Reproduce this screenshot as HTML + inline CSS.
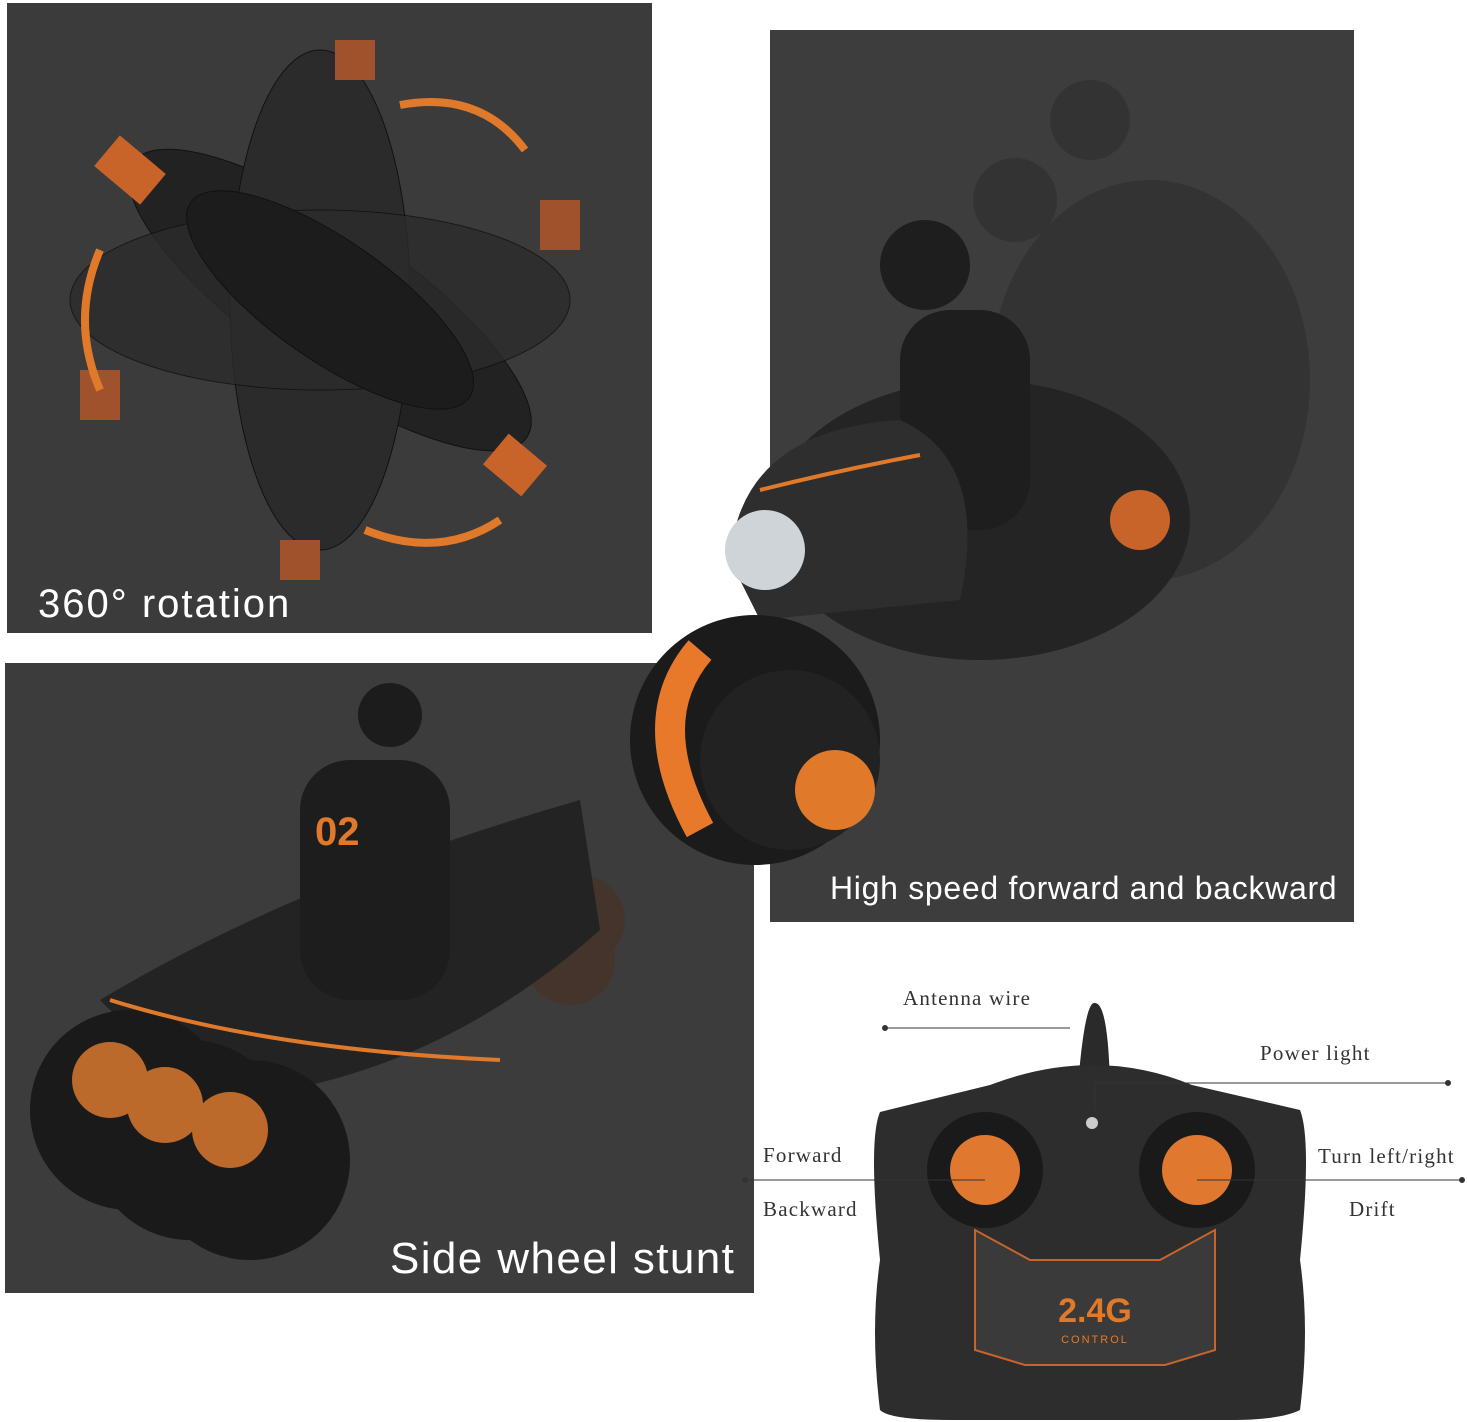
<!DOCTYPE html>
<html><head><meta charset="utf-8"><style>
html,body{margin:0;padding:0;background:#fff;}
body{width:1467px;height:1422px;position:relative;overflow:hidden;font-family:"Liberation Sans",sans-serif;}
.p{position:absolute;background:#3a3a3a;}
.t{position:absolute;color:#fff;white-space:nowrap;}
.l{position:absolute;font-family:"Liberation Serif",serif;font-size:21px;color:#333;letter-spacing:1.2px;white-space:nowrap;}
svg{position:absolute;left:0;top:0;}
</style></head><body>
<div class="p" style="left:7px;top:3px;width:645px;height:630px;background:#3b3b3b"></div>
<div class="p" style="left:770px;top:30px;width:584px;height:892px;background:#3d3d3d"></div>
<div class="p" style="left:5px;top:663px;width:749px;height:630px;background:#3c3c3c"></div>
<svg width="1467" height="1422" viewBox="0 0 1467 1422">
<g fill="#222" stroke="#111">
<ellipse cx="330" cy="300" rx="240" ry="75" transform="rotate(35 330 300)"/>
<ellipse cx="320" cy="300" rx="90" ry="250" fill="#2b2b2b"/>
<ellipse cx="320" cy="300" rx="250" ry="90" fill="#2b2b2b" opacity=".8"/>
<ellipse cx="330" cy="300" rx="170" ry="60" fill="#1c1c1c" transform="rotate(35 330 300)"/>
</g>
<rect x="110" y="140" width="40" height="60" fill="#c8642a" transform="rotate(-50 130 170)"/>
<rect x="495" y="440" width="40" height="50" fill="#c8642a" transform="rotate(-50 515 465)"/>
<rect x="540" y="200" width="40" height="50" fill="#a0522d"/>
<rect x="80" y="370" width="40" height="50" fill="#a0522d"/>
<rect x="335" y="40" width="40" height="40" fill="#a0522d"/>
<rect x="280" y="540" width="40" height="40" fill="#a0522d"/>
<path d="M400 105 Q480 90 525 150" fill="none" stroke="#e07a2a" stroke-width="8"/>
<path d="M365 530 Q440 560 500 520" fill="none" stroke="#e07a2a" stroke-width="8"/>
<path d="M100 250 Q70 320 100 390" fill="none" stroke="#e07a2a" stroke-width="8"/>
<g opacity=".5" fill="#2a2a2a"><ellipse cx="1150" cy="380" rx="160" ry="200"/><circle cx="1090" cy="120" r="40"/><circle cx="1015" cy="200" r="42"/></g>
<ellipse cx="980" cy="520" rx="210" ry="140" fill="#242424"/>
<circle cx="925" cy="265" r="45" fill="#1e1e1e"/>
<rect x="900" y="310" width="130" height="220" rx="50" fill="#1e1e1e"/>
<path d="M730 560 Q740 430 900 420 Q990 460 960 600 L760 620 Z" fill="#2e2e2e"/>
<ellipse cx="765" cy="550" rx="40" ry="40" fill="#cfd4d8"/>
<circle cx="755" cy="740" r="125" fill="#1b1b1b"/>
<circle cx="790" cy="760" r="90" fill="#222"/>
<path d="M700 650 Q640 720 700 830" fill="none" stroke="#e8782a" stroke-width="30"/>
<circle cx="835" cy="790" r="40" fill="#e07a2a"/>
<circle cx="1140" cy="520" r="30" fill="#c8642a"/>
<path d="M760 490 Q840 470 920 455" fill="none" stroke="#e07a2a" stroke-width="4"/>
<g opacity=".6" fill="#4a3020"><circle cx="580" cy="920" r="45"/><circle cx="570" cy="960" r="45"/></g>
<path d="M100 1000 Q300 880 580 800 L600 930 Q420 1090 200 1100 Z" fill="#232323"/>
<circle cx="390" cy="715" r="32" fill="#1c1c1c"/>
<rect x="300" y="760" width="150" height="240" rx="50" fill="#1d1d1d"/>
<text x="315" y="845" fill="#e07a2a" font-size="40" font-weight="bold" font-family="Liberation Sans">02</text>
<g fill="#1a1a1a"><circle cx="130" cy="1110" r="100"/><circle cx="190" cy="1140" r="100"/><circle cx="250" cy="1160" r="100"/></g>
<g fill="#d9782f" opacity=".85"><circle cx="110" cy="1080" r="38"/><circle cx="165" cy="1105" r="38"/><circle cx="230" cy="1130" r="38"/></g>
<path d="M110 1000 Q270 1050 500 1060" fill="none" stroke="#e07a2a" stroke-width="4"/>
<path d="M1078 1085 Q1085 1000 1095 1003 Q1108 1003 1110 1085 Z" fill="#2a2a2a"/>
<path d="M990 1085 Q1095 1045 1192 1085 L1300 1110 Q1312 1140 1300 1260 Q1310 1330 1300 1410 Q1280 1420 1230 1420 L950 1420 Q890 1420 880 1410 Q870 1330 880 1260 Q868 1140 880 1112 Z" fill="#2d2d2d"/>
<path d="M1030 1260 L1160 1260 L1215 1230 L1215 1350 L1165 1365 L1025 1365 L975 1350 L975 1230 Z" fill="#3a3a3a" stroke="#c8642a" stroke-width="2"/>
<circle cx="985" cy="1170" r="58" fill="#1a1a1a"/><circle cx="1197" cy="1170" r="58" fill="#1a1a1a"/>
<circle cx="985" cy="1170" r="35" fill="#e0782f"/><circle cx="1197" cy="1170" r="35" fill="#e0782f"/>
<circle cx="1092" cy="1123" r="6" fill="#ccc"/>
<text x="1095" y="1322" fill="#e07a2a" font-size="34" font-weight="bold" text-anchor="middle" font-family="Liberation Sans">2.4G</text>
<text x="1095" y="1343" fill="#e07a2a" font-size="11" text-anchor="middle" font-family="Liberation Sans" letter-spacing="2">CONTROL</text>
<g stroke="#333" stroke-width="1" fill="#333">
<line x1="885" y1="1028" x2="1070" y2="1028"/><circle cx="885" cy="1028" r="2.5"/>
<line x1="1095" y1="1083" x2="1448" y2="1083"/><line x1="1095" y1="1083" x2="1095" y2="1110"/><circle cx="1448" cy="1083" r="2.5"/>
<line x1="745" y1="1180" x2="985" y2="1180"/><circle cx="745" cy="1180" r="2.5"/>
<line x1="1197" y1="1180" x2="1462" y2="1180"/><circle cx="1462" cy="1180" r="2.5"/>
</g>
</svg>
<div class="t" style="left:38px;top:582px;font-size:40px;letter-spacing:2px">360° rotation</div>
<div class="t" style="left:830px;top:870px;font-size:32px;letter-spacing:0.7px">High speed forward and backward</div>
<div class="t" style="left:390px;top:1234px;font-size:44px;letter-spacing:1.4px">Side wheel stunt</div>
<div class="l" style="left:903px;top:986px">Antenna wire</div>
<div class="l" style="left:1260px;top:1041px">Power light</div>
<div class="l" style="left:763px;top:1143px">Forward</div>
<div class="l" style="left:763px;top:1197px">Backward</div>
<div class="l" style="left:1318px;top:1144px">Turn left/right</div>
<div class="l" style="left:1349px;top:1197px">Drift</div>
</body></html>
